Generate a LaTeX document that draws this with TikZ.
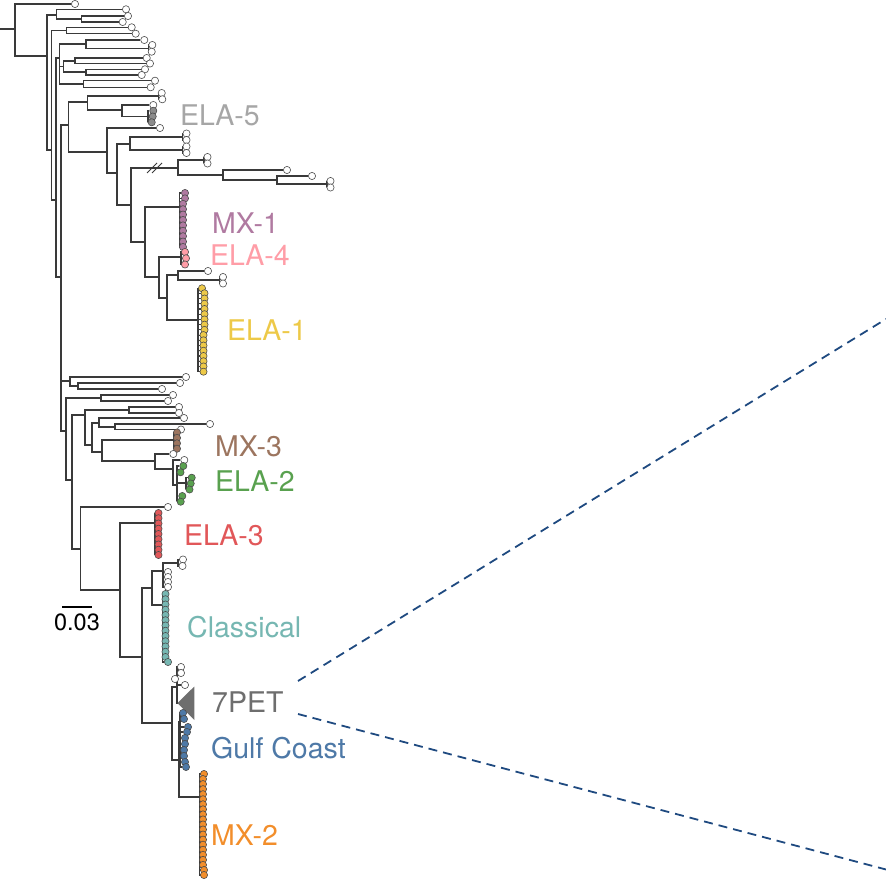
\documentclass[tikz,border=0pt]{standalone}
\usepackage{fontspec}
\setmainfont{TeX Gyre Heros}
\pgfdeclarelayer{bg}
\pgfsetlayers{bg,main}
\newcounter{tipn}
\definecolor{cBr}{HTML}{3A3A3A}
\definecolor{cELA5}{HTML}{8C8C8C}
\definecolor{cELA5t}{HTML}{A6A6A6}
\definecolor{cMX1}{HTML}{B07AA1}
\definecolor{cELA4}{HTML}{FF9DA7}
\definecolor{cELA1}{HTML}{EDC948}
\definecolor{cMX3}{HTML}{9C755F}
\definecolor{cELA2}{HTML}{59A14F}
\definecolor{cELA3}{HTML}{E15759}
\definecolor{cCla}{HTML}{76B7B2}
\definecolor{cPET}{HTML}{6E6E6E}
\definecolor{cGulf}{HTML}{4E79A7}
\definecolor{cMX2}{HTML}{F28E2B}
\definecolor{cDash}{HTML}{1F4A80}
\newcommand\mynd[4]{\coordinate (#1) at (#2,#3);\begin{pgfonlayer}{bg}\draw[br] (#4) |- (#1);\end{pgfonlayer}}
\newcommand\mytip[4]{\stepcounter{tipn}\edef\curtip{t\number\value{tipn}}%
  \node[tipc,fill=#4] (\curtip) at (#2,#3) {};%
  \begin{pgfonlayer}{bg}\draw[br] (#1) |- (\curtip);\end{pgfonlayer}}
\begin{document}
\begin{tikzpicture}[x=1pt,y=-1pt,
  br/.style={draw=cBr,line width=1.15pt},
  tipc/.style={circle,draw=black!70,line width=0.6pt,inner sep=0pt,minimum size=7.2pt},
  lbl/.style={anchor=base west,inner sep=0pt,font=\fontsize{28.5}{30}\selectfont},
  dsh/.style={draw=cDash,line width=1.8pt,dash pattern=on 9pt off 6pt}]
\useasboundingbox (0,0) rectangle (886,885);
% root
\coordinate (r0) at (0,29);
\coordinate (r) at (15,29);
\begin{pgfonlayer}{bg}\draw[br] (r0) -- (r);\end{pgfonlayer}
\mytip{r}{75}{4}{white}
\mynd{A}{47}{56}{r}
\mynd{C1}{56.7}{15}{A}
\mytip{C1}{126}{9.3}{white}
\mynd{N82}{81.7}{19}{C1}
\mytip{N82}{128}{16}{white}
\mytip{N82}{122.7}{22}{white}
\mynd{A2}{51.5}{150}{A}
\mynd{C2}{66.7}{30.7}{A2}
\mytip{C2}{131.7}{27.3}{white}
\mytip{C2}{135.7}{33.7}{white}
\mynd{A3}{56}{200}{A2}
\mynd{X2}{59.3}{58}{A3}
\mynd{C3}{86}{44}{X2}
\mytip{C3}{144.3}{40}{white}
\mynd{S3}{148.5}{48.3}{C3}
\mytip{S3}{152.3}{45}{white}
\mytip{S3}{151.7}{51.7}{white}
\mynd{C4}{63.3}{66.7}{X2}
\mynd{N75}{75}{61}{C4}
\mytip{N75}{146.7}{58}{white}
\mytip{N75}{150}{63.5}{white}
\mynd{N86}{86}{72}{C4}
\mytip{N86}{145}{69.3}{white}
\mytip{N86}{141.7}{75}{white}
\mynd{C5}{83.3}{84}{X2}
\mytip{C5}{155}{80.7}{white}
\mytip{C5}{150.7}{87.3}{white}
\mynd{A4}{61}{277}{A3}
\mynd{X3}{68.3}{125}{A4}
\mynd{C6}{87.3}{102}{X3}
\mynd{S6}{158.5}{96}{C6}
\mytip{S6}{161.7}{93}{white}
\mytip{S6}{162.3}{99.3}{white}
\mynd{N122}{122}{110}{C6}
\mytip{N122}{153.3}{105}{white}
\mynd{G5}{148}{116.5}{N122}
\mytip{G5}{153.3}{110.8}{cELA5}
\mytip{G5}{152.7}{116.5}{cELA5}
\mytip{G5}{151.7}{122.3}{cELA5}
% big upper clade
\mynd{N107}{107}{152}{X3}
\mytip{N107}{160}{128}{white}
\mynd{N117}{117}{173}{N107}
\mynd{N130}{130}{144}{N117}
\mynd{S1}{182.5}{137}{N130}
\mytip{S1}{186.5}{133.5}{white}
\mytip{S1}{186.5}{140}{white}
\mynd{S2}{182.5}{150}{N130}
\mytip{S2}{186.5}{146.5}{white}
\mytip{S2}{186.5}{153}{white}
\mynd{N131}{131}{205}{N117}
\mynd{N178}{178}{168}{N131}
\mynd{S4}{204}{160}{N178}
\mytip{S4}{207.5}{157}{white}
\mytip{S4}{207.5}{163.5}{white}
\mynd{N223}{223}{175}{N178}
\mytip{N223}{287}{170}{white}
\mynd{N277}{277}{180}{N223}
\mytip{N277}{312}{176}{white}
\mynd{S5}{327}{184}{N277}
\mytip{S5}{330.5}{181}{white}
\mytip{S5}{330.5}{187.5}{white}
\draw[cBr,line width=0.8pt] (147,173) -- (157,163) (152,173) -- (162,163);
\mynd{N145}{145}{242}{N131}
\mynd{M1}{179.5}{207}{N145}
\mytip{M1}{185}{193}{cMX1}
\mytip{M1}{185}{198.4}{cMX1}
\foreach \k in {0,...,8} {\mytip{M1}{183}{203.8+5.4*\k}{cMX1}}
\mynd{N159}{159}{277}{N145}
\mynd{E4}{181}{257}{N159}
\mytip{E4}{185}{252}{cELA4}
\mytip{E4}{186}{258.3}{cELA4}
\mytip{E4}{185}{264.5}{cELA4}
\mynd{N167}{167}{298}{N159}
\mynd{N178b}{178}{275}{N167}
\mytip{N178b}{208}{271}{white}
\mynd{S7}{219.5}{280}{N178b}
\mytip{S7}{223}{277}{white}
\mytip{S7}{223}{283.5}{white}
\mynd{E1}{198}{320}{N167}
\mytip{E1}{202}{288.3}{cELA1}
\foreach \k in {0,...,7} {\mytip{E1}{204.5}{293.3+5.225*\k}{cELA1}}
\foreach \k in {8,...,15} {\mytip{E1}{203.5}{293.3+5.225*\k}{cELA1}}
% lower part
\mynd{L1}{70}{381}{A4}
\mytip{L1}{186}{377}{white}
\mynd{N78}{78}{386}{L1}
\mytip{N78}{180}{383}{white}
\mytip{N78}{162}{389}{white}
\mynd{N66}{66}{431}{A4}
\mynd{N101}{101}{398}{N66}
\mytip{N101}{173}{395}{white}
\mytip{N101}{168}{401}{white}
\mynd{N72}{72}{480}{N66}
\mynd{N85}{85}{415}{N72}
\mynd{N129}{129}{410}{N85}
\mytip{N129}{179}{407}{white}
\mytip{N129}{179}{413}{white}
\mynd{N92}{92}{445}{N85}
\mynd{N99}{99}{423}{N92}
\mytip{N99}{184}{418}{white}
\mynd{N115}{115}{427}{N99}
\mytip{N115}{210}{424}{white}
\mytip{N115}{181}{429.5}{white}
\mynd{N102}{102}{452}{N92}
\mynd{B3}{174}{440}{N102}
\foreach \k in {0,...,3} {\mytip{B3}{177}{432.5+5.4*\k}{cMX3}}
\mynd{N154}{155}{461}{N102}
\mytip{N154}{173.3}{454}{white}
\mynd{N173}{173}{469}{N154}
\mytip{N173}{184.3}{460}{white}
\mynd{N177}{177}{485}{N173}
\mytip{N177}{183.3}{466}{cELA2}
\mytip{N177}{180.5}{472.3}{cELA2}
\mynd{N186}{186}{483}{N177}
\mytip{N186}{191.7}{477.7}{cELA2}
\mytip{N186}{190.7}{483.5}{cELA2}
\mytip{N186}{189.5}{489.5}{cELA2}
\mytip{N177}{182.3}{496}{cELA2}
\mytip{N177}{180.7}{501.7}{cELA2}
\mynd{N80}{80.7}{549}{N72}
\mytip{N80}{168}{507}{white}
\mynd{N120}{120}{590}{N80}
\mynd{E3}{155}{523}{N120}
\foreach \k in {0,...,8} {\mytip{E3}{158.5}{513+5.25*\k}{cELA3}}
\mynd{N142}{142}{657}{N120}
\mynd{N152}{152}{588}{N142}
\mynd{N163}{163}{571}{N152}
\mynd{N178c}{178}{563}{N163}
\mytip{N178c}{183}{559.5}{white}
\mytip{N178c}{182.5}{566}{white}
\foreach \k in {0,...,3} {\mytip{N163}{168}{572+5*\k}{white}}
\mynd{CL}{162.5}{605}{N152}
\foreach \k in {0,...,12} {\mytip{CL}{165.5}{594+5.25*\k}{cCla}}
\mytip{CL}{168}{662}{cCla}
\mynd{N172}{172}{723}{N142}
\mynd{N177t}{177}{687}{N172}
\mytip{N177t}{181}{667}{white}
\mytip{N177t}{181}{673}{white}
\mytip{N177t}{185}{685}{white}
\coordinate (pet) at (177.5,703);
\coordinate (petA) at (194.3,686.5);
\coordinate (petB) at (194.3,720);
\begin{pgfonlayer}{bg}\draw[br] (N177t) |- (pet);\end{pgfonlayer}
\fill[cPET] (pet) -- (petA) -- (petB) -- cycle;
\node[tipc,fill=white] (w679) at (175,679) {};
\mynd{N179}{179}{760}{N172}
\mynd{GC}{180}{722}{N179}
\mytip{GC}{183}{713}{cGulf}
\mytip{GC}{184}{719}{cGulf}
\mytip{GC}{188}{727}{cGulf}
\mytip{GC}{187}{732}{cGulf}
\mytip{GC}{185}{738}{cGulf}
\mytip{GC}{185}{744}{cGulf}
\mytip{GC}{184}{750}{cGulf}
\mytip{GC}{184}{756}{cGulf}
\mytip{GC}{185}{762}{cGulf}
\mytip{GC}{186}{767}{cGulf}
\mynd{M2}{199.5}{797}{N179}
\mytip{M2}{204}{774}{cMX2}
\foreach \k in {1,...,18} {\mytip{M2}{203}{774+5.05*\k}{cMX2}}
\mytip{M2}{204}{870}{cMX2}
\mytip{M2}{204}{875}{cMX2}
% labels
\node[lbl,text=cELA5t] (lELA5) at (180,126) {ELA-5};
\node[lbl,text=cMX1] (lMX1) at (212,234) {MX-1};
\node[lbl,text=cELA4] (lELA4) at (210,265.5) {ELA-4};
\node[lbl,text=cELA1] (lELA1) at (227,341) {ELA-1};
\node[lbl,text=cMX3] (lMX3) at (215,456) {MX-3};
\node[lbl,text=cELA2] (lELA2) at (215,491) {ELA-2};
\node[lbl,text=cELA3] (lELA3) at (184,545) {ELA-3};
\node[lbl,text=cCla] (lCla) at (187,637) {Classical};
\node[lbl,text=cPET] (lPET) at (212,712) {7PET};
\node[lbl,text=cGulf] (lGulf) at (211,758) {Gulf Coast};
\node[lbl,text=cMX2] (lMX2) at (211,845) {MX-2};
% scale bar
\coordinate (sb1) at (62,607);
\coordinate (sb2) at (92,607);
\draw[black,line width=1.2pt] (sb1) -- (sb2);
\node[anchor=base,inner sep=0pt,font=\fontsize{23.5}{25}\selectfont] (sbl) at (77,630.5) {0.03};
% zoom lines
\coordinate (da1) at (298,681);
\coordinate (da2) at (886,319);
\coordinate (db1) at (298,714);
\coordinate (db2) at (886,869.5);
\draw[dsh] (da1) -- (da2);
\draw[dsh] (db1) -- (db2);
\end{tikzpicture}
\end{document}
